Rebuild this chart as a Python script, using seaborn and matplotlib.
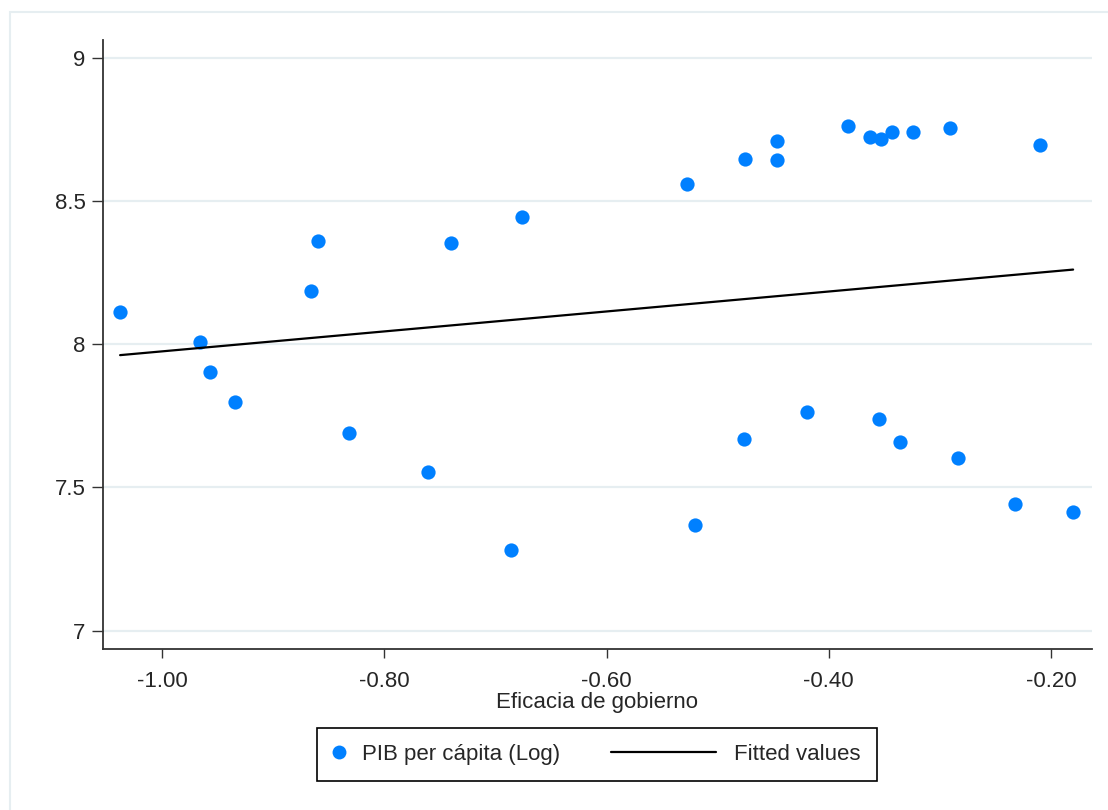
"""
Scatter of log GDP per capita against government effectiveness,
with the OLS fitted line (Stata s2color look).
"""

## Import packages
import matplotlib
matplotlib.use('Agg')
import matplotlib.pyplot as plt
import seaborn as sns
import pandas as pd
from matplotlib.lines import Line2D
from matplotlib.patches import Rectangle
from matplotlib.legend_handler import HandlerLine2D


## Data
eficacia = [-1.038, -0.966, -0.957, -0.935, -0.866, -0.860, -0.832, -0.761,
            -0.740, -0.686, -0.676, -0.528, -0.520, -0.476, -0.475, -0.447,
            -0.447, -0.420, -0.383, -0.363, -0.355, -0.353, -0.343, -0.336,
            -0.324, -0.291, -0.284, -0.232, -0.210, -0.180]
pib_log = [8.112, 8.008, 7.903, 7.798, 8.185, 8.360, 7.689, 7.554,
           8.353, 7.282, 8.443, 8.559, 7.369, 7.668, 8.646, 8.709,
           8.642, 7.763, 8.761, 8.723, 7.738, 8.716, 8.740, 7.659,
           8.740, 8.754, 7.603, 7.442, 8.695, 7.414]

y_ticks = [7, 7.5, 8, 8.5, 9]
y_ticklabels = ['7', '7.5', '8', '8.5', '9']
x_ticks = [-1.0, -0.8, -0.6, -0.4, -0.2]
x_ticklabels = ['-1.00', '-0.80', '-0.60', '-0.40', '-0.20']

df = pd.DataFrame({'eficacia': eficacia, 'pib': pib_log})


## Figure parameters
blue = '#0080FF'
grid_col = '#E6EEF1'
fs = 16

sns.set_theme(style='white')
plt.rcParams['font.family'] = ['Liberation Sans', 'DejaVu Sans']

fig = plt.figure(figsize=(11.08, 8.10), dpi=100)
ax = fig.add_axes([103 / 1108, 1 - 649 / 810, (1092 - 103) / 1108, (649 - 40) / 810])

# Outer Stata-like frame
fig.add_artist(Rectangle((10 / 1108, -0.1), 1.2, 1 - 12 / 810 + 0.1,
                         transform=fig.transFigure, fill=False,
                         edgecolor=grid_col, linewidth=1.5))

# Grid lines
for yt in y_ticks:
    ax.axhline(yt, color=grid_col, linewidth=1.6, zorder=0)

# Scatter and fitted line
sns.scatterplot(data=df, x='eficacia', y='pib', color=blue, s=105,
                linewidth=0, ax=ax, zorder=3)
sns.regplot(data=df, x='eficacia', y='pib', scatter=False, ci=None,
            truncate=True, color='black', line_kws={'linewidth': 1.6, 'zorder': 4},
            ax=ax)

# Axes
ax.set_xlim(-1.0534, -0.163)
ax.set_ylim(6.936, 9.062)
ax.set_xticks(x_ticks)
ax.set_xticklabels(x_ticklabels)
ax.set_yticks(y_ticks)
ax.set_yticklabels(y_ticklabels)
ax.grid(False)
ax.set_xlabel('Eficacia de gobierno', fontsize=fs, labelpad=0)
ax.set_ylabel('')

for side in ['top', 'right']:
    ax.spines[side].set_visible(False)
for side in ['left', 'bottom']:
    ax.spines[side].set_color('#333333')
    ax.spines[side].set_linewidth(1.3)

ax.tick_params(axis='both', which='major', labelsize=fs, direction='out',
               width=1.0, color='#333333', left=True, bottom=True)
ax.tick_params(axis='x', length=6.5, pad=9)
ax.tick_params(axis='y', length=8, pad=4.5)


## Legend
class WideLine(HandlerLine2D):
    # stretch the line sample to the left, the marker sample stays narrow
    def get_xdata(self, legend, xdescent, ydescent, width, height, fontsize):
        xdata, xm = super().get_xdata(legend, xdescent, ydescent, width, height, fontsize)
        return [-xdescent - 4.28 * fontsize, -xdescent + width], xm


h_pts = Line2D([], [], marker='o', linestyle='', color=blue, markersize=10,
               markeredgewidth=0)
h_fit = Line2D([], [], color='black', linewidth=1.6)
leg = fig.legend(handles=[h_pts, h_fit],
                 labels=['PIB per cápita (Log)', 'Fitted values'],
                 loc='upper center', bbox_to_anchor=(597 / 1108, 1 - 728 / 810),
                 ncol=2, fontsize=fs, frameon=True, fancybox=False,
                 framealpha=1, edgecolor='black', handlelength=0.45,
                 handletextpad=0.81, columnspacing=6.58, borderpad=0.73,
                 borderaxespad=0, handler_map={h_fit: WideLine()})
leg.get_frame().set_linewidth(1.2)


# Save figure
plt.savefig('out.png', dpi=100)
